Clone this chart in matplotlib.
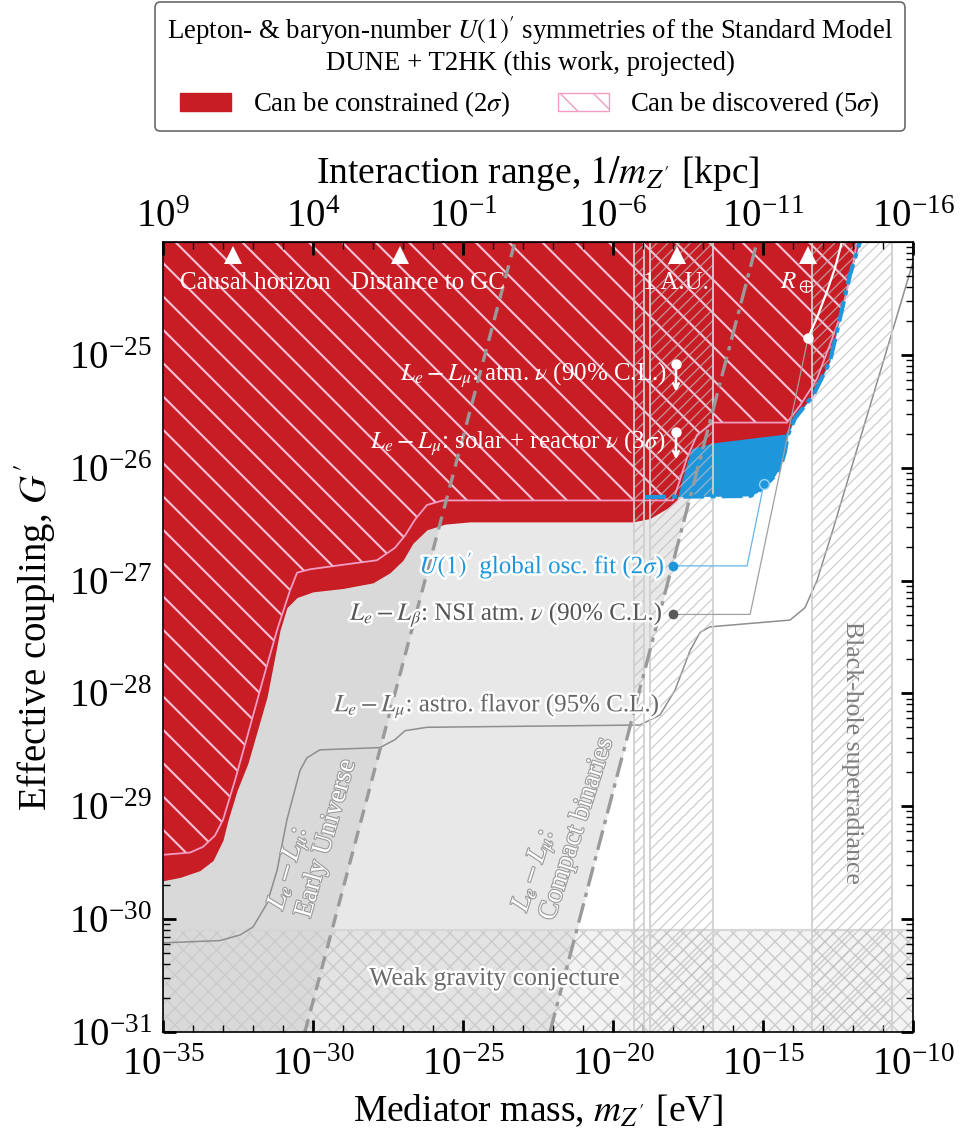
import numpy as np
import matplotlib
matplotlib.use('Agg')
import matplotlib.pyplot as plt
import matplotlib.patheffects as pe
import matplotlib.transforms as mtransforms
from matplotlib.patches import Patch
from matplotlib.ticker import FixedLocator, LogFormatterSciNotation, NullFormatter, LogLocator

plt.rcParams['font.family'] = 'serif'
plt.rcParams['font.serif'] = ['Liberation Serif', 'DejaVu Serif']
plt.rcParams['mathtext.fontset'] = 'stix'

RED = '#c81d25'
BLUE = '#1e96dc'
PINK = '#f29cc3'
PINK_HATCH = '#f6c2d6'

# --- curves, all as log10(m / eV), log10(G') ---
# DUNE + T2HK, 2 sigma sensitivity (lower edge of the red region)
red_logm = [-35.00, -34.43, -33.77, -33.33, -33.00, -32.83, -32.53, -32.17, -31.53,
            -31.10, -30.87, -30.53, -30.00, -29.00, -28.00, -27.43, -27.00, -26.67,
            -26.20, -25.60, -24.77, -19.33, -18.77, -18.20, -17.87, -17.70, -17.50,
            -17.37, -16.67, -14.20, -13.97, -13.37, -12.80, -12.47, -12.13, -11.80]
red_logG = [-29.66, -29.63, -29.57, -29.48, -29.30, -29.12, -28.86, -28.62, -28.03,
            -27.44, -27.24, -27.15, -27.10, -27.07, -27.02, -26.93, -26.82, -26.67,
            -26.55, -26.50, -26.48, -26.48, -26.45, -26.36, -26.29, -26.11, -25.93,
            -25.83, -25.78, -25.70, -25.56, -25.36, -25.06, -24.67, -24.29, -24.00]

# DUNE + T2HK, 5 sigma discovery
disc_logm = [-35.00, -34.10, -33.67, -33.27, -33.00, -32.60, -32.20, -31.67, -31.20,
             -30.77, -30.53, -30.10, -29.00, -27.87, -27.27, -26.93, -26.60, -26.20,
             -25.67, -18.00, -17.77, -17.53, -17.20, -16.67, -14.20, -13.77, -13.43,
             -13.20, -12.77, -12.37, -12.00, -11.87]
disc_logG = [-29.43, -29.41, -29.36, -29.26, -29.12, -28.77, -28.39, -27.88, -27.44,
             -27.09, -26.93, -26.90, -26.86, -26.82, -26.71, -26.60, -26.46, -26.33,
             -26.29, -26.29, -26.11, -25.91, -25.71, -25.60, -25.60, -25.45, -25.31,
             -25.21, -24.91, -24.62, -24.20, -24.00]

# U(1)' global oscillation fit, 2 sigma
osc_logm = [-18.93, -15.43, -15.20, -14.90, -14.60, -14.40, -14.27, -14.17, -13.93,
            -13.33, -12.77, -12.43, -12.10, -11.77]
osc_logG = [-26.26, -26.25, -26.22, -26.15, -26.07, -25.98, -25.86, -25.71, -25.56,
            -25.36, -25.06, -24.67, -24.29, -24.00]

# L_e - L_mu, astrophysical flavor composition (95% C.L.)
astro_logm = [-35.00, -33.10, -32.43, -32.00, -31.53, -31.20, -30.87, -30.43, -30.20,
              -29.77, -27.77, -27.27, -26.93, -26.20, -19.10, -18.43, -17.93, -17.43,
              -17.10, -16.77, -14.10, -13.60, -13.20, -12.67, -10.00]
astro_logG = [-30.21, -30.19, -30.14, -30.07, -29.86, -29.57, -29.12, -28.68, -28.57,
              -28.50, -28.48, -28.41, -28.33, -28.30, -28.28, -28.19, -27.97, -27.62,
              -27.46, -27.41, -27.35, -27.24, -27.00, -26.55, -24.18]

# L_e - L_beta, NSI in atmospheric neutrinos (90% C.L.)
nsi_logm = [-13.50, -13.20, -12.87, -12.60, -12.37]
nsi_logG = [-24.85, -24.67, -24.44, -24.23, -24.00]

# upper limits from atmospheric and solar + reactor neutrinos
limit_logm = [-17.90, -17.90]
limit_logG = [-25.08, -25.68]

# early-Universe and compact-binary bounds (straight lines)
early_logm = [-30.27, -23.27]
early_logG = [-31.00, -24.00]
binary_logm = [-22.10, -15.20]
binary_logG = [-31.00, -24.00]

# weak gravity conjecture
wgc_logG = -30.10

# vertical excluded bands in log10(m)
band_edges = [(-19.30, -18.97), (-18.77, -16.67), (-13.37, -10.70)]

# length scales marked at the top, in kpc
landmark_names = ['Causal horizon', 'Distance to GC', '1 A.U.', r'$R_\oplus$']
landmark_kpc = [3.0e6, 8.0, 4.848e-9, 2.065e-13]
HBARC_EV_KPC = 1.9733e-7 / 3.0857e19


def pw(a):
    return 10.0 ** np.asarray(a, dtype=float)


def hatch_lw(artist, lw):
    if hasattr(artist, 'set_hatch_linewidth'):
        artist.set_hatch_linewidth(lw)
    return artist


G_TOP = 1e-24

fig = plt.figure(figsize=(9.64, 11.30), dpi=100)
ax = fig.add_axes([163 / 964, 1 - 1032 / 1130, 750 / 964, 790 / 1130])
ax.set_xscale('log')
ax.set_yscale('log')
ax.set_xlim(1e-35, 1e-10)
ax.set_ylim(1e-31, G_TOP)

# grey excluded regions
ax.fill_betweenx(pw(binary_logG), 1e-35, pw(binary_logm), color='#e8e8e8', lw=0, zorder=1.0)
ax.fill_betweenx(pw(early_logG), 1e-35, pw(early_logm), color='#d9d9d9', lw=0, zorder=1.05)

# weak gravity conjecture band
with plt.rc_context({'hatch.linewidth': 1.0}):
    wgc = ax.fill_between([1e-35, 1e-10], 1e-31, pw(wgc_logG),
                          facecolor=(0.85, 0.85, 0.85, 0.3), edgecolor='#cbcbcb',
                          hatch='xx', lw=0, zorder=1.1)
hatch_lw(wgc, 1.0)
ax.axhline(pw(wgc_logG), color='#d6d6d6', lw=1.6, zorder=1.12)

ax.plot(pw(astro_logm), pw(astro_logG), color='#8e8e8e', lw=1.1, zorder=1.3)

# global fit, then the projected sensitivity on top
ax.fill_between(pw(osc_logm), pw(osc_logG), G_TOP, color=BLUE, lw=0, zorder=1.5)
ax.fill_between(pw(red_logm), pw(red_logG), G_TOP, color=RED, lw=0, zorder=1.6)
with plt.rc_context({'hatch.linewidth': 1.5}):
    disc = ax.fill_between(pw(disc_logm), pw(disc_logG), G_TOP, facecolor='none',
                           edgecolor=PINK_HATCH, hatch='\\', lw=0, zorder=1.7)
hatch_lw(disc, 1.5)
ax.plot(pw(disc_logm), pw(disc_logG), color=PINK, lw=1.3, zorder=1.75)

# vertical bands (hatched)
for lo, hi in band_edges:
    with plt.rc_context({'hatch.linewidth': 0.9}):
        band = ax.axvspan(pw(lo), pw(hi), facecolor='none',
                          edgecolor=(0.74, 0.74, 0.74, 0.75), hatch='///', lw=0, zorder=1.8)
    hatch_lw(band, 0.9)
    for e in (lo, hi):
        ax.axvline(pw(e), color='#d0d0d0', lw=1.3, zorder=1.82)

ax.plot(pw(osc_logm), pw(osc_logG), color=BLUE, lw=3, ls=(0, (5, 1.5, 1.2, 1.5)),
        zorder=1.9)

ax.plot(pw(early_logm), pw(early_logG), color='#9a9a9a', lw=2.4, ls=(0, (4, 2.5)), zorder=2.0)
ax.plot(pw(binary_logm), pw(binary_logG), color='#9a9a9a', lw=2.4,
        ls=(0, (6, 2, 1.3, 2)), zorder=2.0)

# leader lines for the labels
ax.plot(pw([-18.0, -15.53, -14.97]), pw([-26.87, -26.87, -26.14]), color='#63b6ea',
        lw=0.9, zorder=2.1)
ax.plot(pw(-18.0), pw(-26.87), 'o', color=BLUE, ms=6, zorder=2.2)
ax.plot(pw(-14.97), pw(-26.14), 'o', mfc=BLUE, mec='#9ad4f5', ms=7, mew=1, zorder=2.2)
ax.plot(pw([-18.0, -15.43, -13.5]), pw([-27.30, -27.30, -24.85]), color='#a0a0a0',
        lw=0.9, zorder=2.1)
ax.plot(pw(-18.0), pw(-27.30), 'o', color='#5a5a5a', ms=6, zorder=2.2)

ax.plot(pw(nsi_logm), pw(nsi_logG), color='white', lw=1.6, zorder=2.15)
ax.plot(pw(nsi_logm[0]), pw(nsi_logG[0]), 'o', color='white', ms=6.5, zorder=2.2)

ax.plot(pw(limit_logm), pw(limit_logG), 'o', color='white', ms=6.5, zorder=2.2)
for lm, lg in zip(limit_logm, limit_logG):
    ax.annotate('', xy=(pw(lm), pw(lg)), xycoords='data', xytext=(0, -20),
                textcoords='offset points',
                arrowprops=dict(arrowstyle='<-', color='white', lw=1.8,
                                shrinkA=0, shrinkB=0), zorder=2.2)

# length-scale landmarks
top_tr = mtransforms.blended_transform_factory(ax.transData, ax.transAxes)
landmark_m = HBARC_EV_KPC / np.array(landmark_kpc)
ax.plot(landmark_m, [0.9835] * len(landmark_m), '^', color='white', ms=13, mew=0,
        transform=top_tr, zorder=3)
label_m = pw([-31.93, -26.17, -17.9, -13.87])
for name, xm in zip(landmark_names, label_m):
    ax.text(xm, 0.948, name, transform=top_tr, ha='center', va='center',
            color='white', fontsize=18, zorder=3)

white_edge = [pe.withStroke(linewidth=3.5, foreground='white')]
grey_edge = [pe.withStroke(linewidth=1.6, foreground='#9a9a9a')]

ax.text(pw(-18.2), pw(-25.18), r'$L_e - L_\mu$: atm. $\nu$ (90% C.L.)', color='white',
        ha='right', va='center', fontsize=18, zorder=3)
ax.text(pw(-18.23), pw(-25.78), r'$L_e - L_\mu$: solar + reactor $\nu$ (3$\sigma$)',
        color='white', ha='right', va='center', fontsize=18, zorder=3)
ax.text(pw(-18.27), pw(-26.87), r"$U(1)'$ global osc. fit (2$\sigma$)", color=BLUE,
        ha='right', va='center', fontsize=18, zorder=3, path_effects=white_edge)
ax.text(pw(-18.33), pw(-27.30), r'$L_e - L_\beta$: NSI atm. $\nu$ (90% C.L.)',
        color='#555555', ha='right', va='center', fontsize=18, zorder=3,
        path_effects=white_edge)
ax.text(pw(-18.43), pw(-28.11), r'$L_e - L_\mu$: astro. flavor (95% C.L.)',
        color='#666666', ha='right', va='center', fontsize=18, zorder=3,
        path_effects=white_edge)

ax.text(pw(-30.03), pw(-29.25), '$L_e - L_\\mu$:\nEarly Universe', color='white',
        rotation=74, ha='center', va='center', multialignment='left', fontsize=19.5,
        linespacing=1.0, zorder=3, path_effects=grey_edge)
ax.text(pw(-21.67), pw(-29.16), '$L_e - L_\\mu$:\nCompact binaries', color='white',
        rotation=72, ha='center', va='center', multialignment='left', fontsize=19.5,
        linespacing=1.0, zorder=3, path_effects=grey_edge)
ax.text(pw(-23.93), pw(-30.53), 'Weak gravity conjecture', color='#6a6a6a',
        ha='center', va='center', fontsize=18.5, zorder=3, path_effects=white_edge)
ax.text(pw(-12.03), pw(-28.52), 'Black-hole superradiance', color='#7f7f7f',
        rotation=-90, ha='center', va='center', fontsize=18.5, zorder=3)

# axes, ticks
ax.xaxis.set_major_locator(FixedLocator(pw(np.arange(-35, -9, 5))))
ax.xaxis.set_minor_locator(FixedLocator(pw(np.arange(-35, -9, 1))))
ax.xaxis.set_major_formatter(LogFormatterSciNotation())
ax.xaxis.set_minor_formatter(NullFormatter())
ax.yaxis.set_major_locator(FixedLocator(pw(np.arange(-31, -24, 1))))
ax.yaxis.set_minor_locator(LogLocator(base=10, subs=np.arange(2, 10), numticks=20))
ax.yaxis.set_major_formatter(LogFormatterSciNotation())
ax.yaxis.set_minor_formatter(NullFormatter())
ax.tick_params(which='both', direction='in', top=False, right=True, labelsize=28)
ax.tick_params(which='major', length=9, width=2.0, pad=8)
ax.tick_params(axis='x', which='major', pad=11)
ax.tick_params(which='minor', length=5, width=1.0)
for s in ax.spines.values():
    s.set_linewidth(1.2)

sec = ax.secondary_xaxis('top', functions=(lambda m: 1e-26 / m, lambda r: 1e-26 / r))
sec.xaxis.set_major_locator(FixedLocator(pw(np.arange(9, -17, -5))))
sec.xaxis.set_minor_locator(FixedLocator(pw(np.arange(9, -17, -1))))
sec.xaxis.set_major_formatter(LogFormatterSciNotation())
sec.xaxis.set_minor_formatter(NullFormatter())
sec.tick_params(which='both', direction='in', labelsize=28)
sec.tick_params(which='major', length=9, width=2.0, pad=4)
sec.tick_params(which='minor', length=5, width=1.0)
sec.set_zorder(2.6)
sec.set_xlabel(r"Interaction range, $1/m_{Z'}$ [kpc]", fontsize=27, labelpad=12)

ax.set_xlabel(r"Mediator mass, $m_{Z'}$ [eV]", fontsize=27, labelpad=6)
ax.set_ylabel(r"Effective coupling, $G'$", fontsize=28, labelpad=8)

handles = [Patch(facecolor=RED, edgecolor=RED),
           Patch(facecolor='white', edgecolor=PINK, hatch='\\', lw=1.0)]
labels = [r'Can be constrained (2$\sigma$)', r'Can be discovered (5$\sigma$)']
leg = fig.legend(handles, labels, loc='upper center', bbox_to_anchor=(0.55, 0.998),
                 ncol=2, fontsize=19.3, title_fontsize=19.3, frameon=True, fancybox=True,
                 title="Lepton- & baryon-number $U(1)'$ symmetries of the Standard Model\n"
                       "DUNE + T2HK (this work, projected)",
                 handlelength=1.9, handleheight=0.7, handletextpad=0.8, columnspacing=1.8,
                 borderpad=0.45, borderaxespad=0)
leg.get_title().set_multialignment('center')
leg.get_frame().set_edgecolor('#444444')
leg.get_frame().set_linewidth(1.2)

fig.savefig('out.png', dpi=100)
